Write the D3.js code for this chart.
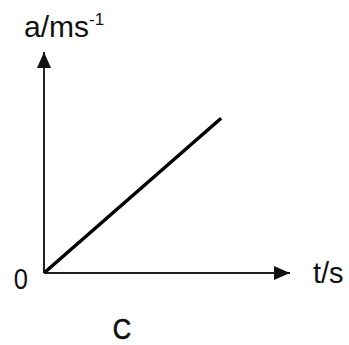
<!DOCTYPE html>
<html>
<head>
<meta charset="utf-8">
<script src="https://cdn.jsdelivr.net/npm/d3@7"></script>
<style>
  html, body { margin: 0; padding: 0; background: #fff; }
  svg { display: block; }
  text { font-family: "Liberation Sans", Arial, sans-serif; fill: #111; }
</style>
</head>
<body>
<svg id="chart" width="349" height="345"></svg>
<script>
// Acceleration–time graph: acceleration grows linearly from zero
const times = [0, 7.2];          // t / s
const accels = [0, 7.0];         // a / m s^-1
const xDomain = [0, 10];
const yDomain = [0, 10];
const originLabel = "0";
const xLabel = "t/s";
const yLabelBase = "a/ms";
const yLabelSup = "-1";
const caption = "C";

const svg = d3.select("#chart");

const x = d3.scaleLinear().domain(xDomain).range([44, 290]);
const y = d3.scaleLinear().domain(yDomain).range([273, 52]);

// arrowheads
const defs = svg.append("defs");
defs.append("marker")
  .attr("id", "arrow")
  .attr("viewBox", "0 0 16 14")
  .attr("refX", 16).attr("refY", 7)
  .attr("markerWidth", 16).attr("markerHeight", 14)
  .attr("markerUnits", "userSpaceOnUse")
  .attr("orient", "auto")
  .append("path")
  .attr("d", "M0,0 L16,7 L0,14 Z")
  .attr("fill", "#111");

// axes as plain arrowed lines (no ticks)
svg.append("line")
  .attr("x1", x(0)).attr("y1", y(0))
  .attr("x2", x(xDomain[1])).attr("y2", y(0))
  .attr("stroke", "#222").attr("stroke-width", 2)
  .attr("marker-end", "url(#arrow)");

svg.append("line")
  .attr("x1", x(0)).attr("y1", y(0))
  .attr("x2", x(0)).attr("y2", y(yDomain[1]))
  .attr("stroke", "#222").attr("stroke-width", 2)
  .attr("marker-end", "url(#arrow)");

// the a–t line
const line = d3.line()
  .x((d, i) => x(times[i]))
  .y(d => y(d));

svg.append("path")
  .datum(accels)
  .attr("d", line)
  .attr("fill", "none")
  .attr("stroke", "#000")
  .attr("stroke-width", 3.5)
  .attr("stroke-linecap", "butt");

// narrow a text horizontally about its anchor point
function squeeze(sel, ax, k) {
  sel.attr("transform", `translate(${ax},0) scale(${k},1) translate(${-ax},0)`);
}

// labels
const ox = x(0) - 16;
svg.append("text")
  .attr("x", ox).attr("y", y(0) + 16)
  .attr("text-anchor", "end")
  .attr("font-size", 30)
  .call(squeeze, ox, 0.85)
  .text(originLabel);

svg.append("text")
  .attr("x", x(xDomain[1]) + 23).attr("y", y(0) + 10)
  .attr("font-size", 29)
  .text(xLabel);

const yl = svg.append("text")
  .attr("x", 24).attr("y", 37)
  .attr("font-size", 30);
yl.append("tspan").text(yLabelBase);
yl.append("tspan").attr("font-size", 17).attr("dy", -12).text(yLabelSup);

svg.append("text")
  .attr("x", 122).attr("y", 339)
  .attr("text-anchor", "middle")
  .attr("font-size", 30)
  .attr("stroke", "#111").attr("stroke-width", 0.7)
  .call(squeeze, 122, 0.85)
  .text(caption);
</script>
</body>
</html>
